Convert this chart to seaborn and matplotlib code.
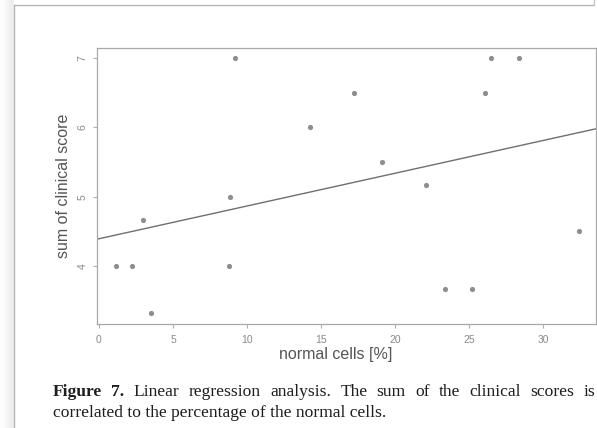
import numpy as np
import pandas as pd
import matplotlib
matplotlib.use("Agg")
import matplotlib.pyplot as plt
import seaborn as sns
from matplotlib.lines import Line2D
from matplotlib.patches import Rectangle

# ---- data ----
normal_cells = [1.15, 2.25, 8.8, 2.95, 3.5, 8.85, 9.2, 14.25, 17.2, 19.1,
                22.1, 26.1, 26.5, 28.4, 32.4, 23.4, 25.2]
clinical_score = [4.0, 4.0, 4.0, 4.67, 3.33, 5.0, 7.0, 6.0, 6.5, 5.5,
                  5.17, 6.5, 7.0, 7.0, 4.5, 3.67, 3.67]
x_ticks = [0, 5, 10, 15, 20, 25, 30]
y_ticks = [4, 5, 6, 7]
x_label = "normal cells [%]"
y_label = "sum of clinical score"
caption_line1 = ["Figure", "7.", "Linear", "regression", "analysis.", "The", "sum",
                 "of", "the", "clinical", "scores", "is"]
caption_bold = 2
caption_line2 = "correlated to the percentage of the normal cells."

df = pd.DataFrame({"x": normal_cells, "y": clinical_score})

W, H = 597, 428
sns.set_style("white")
plt.rcParams["font.family"] = ["Liberation Sans", "DejaVu Sans"]
fig = plt.figure(figsize=(W / 100, H / 100), dpi=100)
fig.patch.set_facecolor("white")

def fx(px):
    return px / W

def fy(py):
    return 1 - py / H

# page frame / shadow
for i, a in enumerate([0.05, 0.08, 0.12, 0.18]):
    fig.patches.append(Rectangle((fx(0 + i * 3), 0), fx(14 - i * 3), 1,
                                 transform=fig.transFigure, color="#d8d8d8",
                                 alpha=a, lw=0, zorder=0))
fig.lines.append(Line2D([fx(14), fx(14)], [0, fy(5)], transform=fig.transFigure,
                        color="#b5b5b5", lw=1.0))
fig.lines.append(Line2D([fx(14), fx(594)], [fy(5), fy(5)], transform=fig.transFigure,
                        color="#b5b5b5", lw=1.0))
fig.lines.append(Line2D([fx(594), fx(594)], [fy(0), fy(5)], transform=fig.transFigure,
                        color="#c5c5c5", lw=1.0))

ax = fig.add_axes([fx(97), fy(324), fx(596) - fx(97), fy(48) - fy(324)])
ax.set_xlim(-0.135, 33.58)
ax.set_ylim(3.165, 7.144)

sns.regplot(data=df, x="x", y="y", ax=ax, ci=None, truncate=False,
            scatter_kws=dict(s=14, color="#7a7a7a", alpha=0.85, linewidths=0),
            line_kws=dict(color="#6f6f6f", lw=1.0))
ax.set_xlim(-0.135, 33.58)
ax.set_ylim(3.165, 7.144)

for s in ax.spines.values():
    s.set_color("#a8a8a8")
    s.set_linewidth(0.9)

ax.set_xticks(x_ticks)
ax.set_yticks(y_ticks)
ax.set_xticklabels([str(t) for t in x_ticks])
ax.set_yticklabels([str(t) for t in y_ticks], rotation=90, va="center")
ax.tick_params(axis="both", direction="out", length=3, width=0.8, color="#b0b0b0",
               labelsize=7.5, labelcolor="#8a8a8a", bottom=True, left=True)
ax.tick_params(axis="x", pad=5)
ax.tick_params(axis="y", pad=4)

ax.set_xlabel(x_label, fontsize=11.5, color="#555555")
ax.set_ylabel(y_label, fontsize=11.5, color="#555555")
ax.xaxis.label.set_va("center")
ax.yaxis.label.set_va("center")
ax.xaxis.set_label_coords((336 - 97) / 499, -(354 - 324) / 276)
ax.yaxis.set_label_coords((64 - 97) / 499, 0.5)

# caption (justified first line)
cap_font = ["Liberation Serif", "DejaVu Serif"]
cap_size = 12.6
x0, x1 = 53, 595
y1, y2 = 392, 413
fig.canvas.draw()
renderer = fig.canvas.get_renderer()
texts = []
total = 0
for i, w in enumerate(caption_line1):
    t = fig.text(0, fy(y1), w, family=cap_font, fontsize=cap_size, color="#1e1e1e",
                 fontweight="bold" if i < caption_bold else "normal", va="center", ha="left")
    bb = t.get_window_extent(renderer)
    texts.append((t, bb.width))
    total += bb.width
gap = ((x1 - x0) - total) / (len(caption_line1) - 1)
cx = x0
for t, wdt in texts:
    t.set_x(fx(cx))
    cx += wdt + gap
fig.text(fx(x0), fy(y2), caption_line2, family=cap_font, fontsize=cap_size,
         color="#1e1e1e", va="center", ha="left")

fig.savefig("out.png", dpi=100, facecolor="white")
